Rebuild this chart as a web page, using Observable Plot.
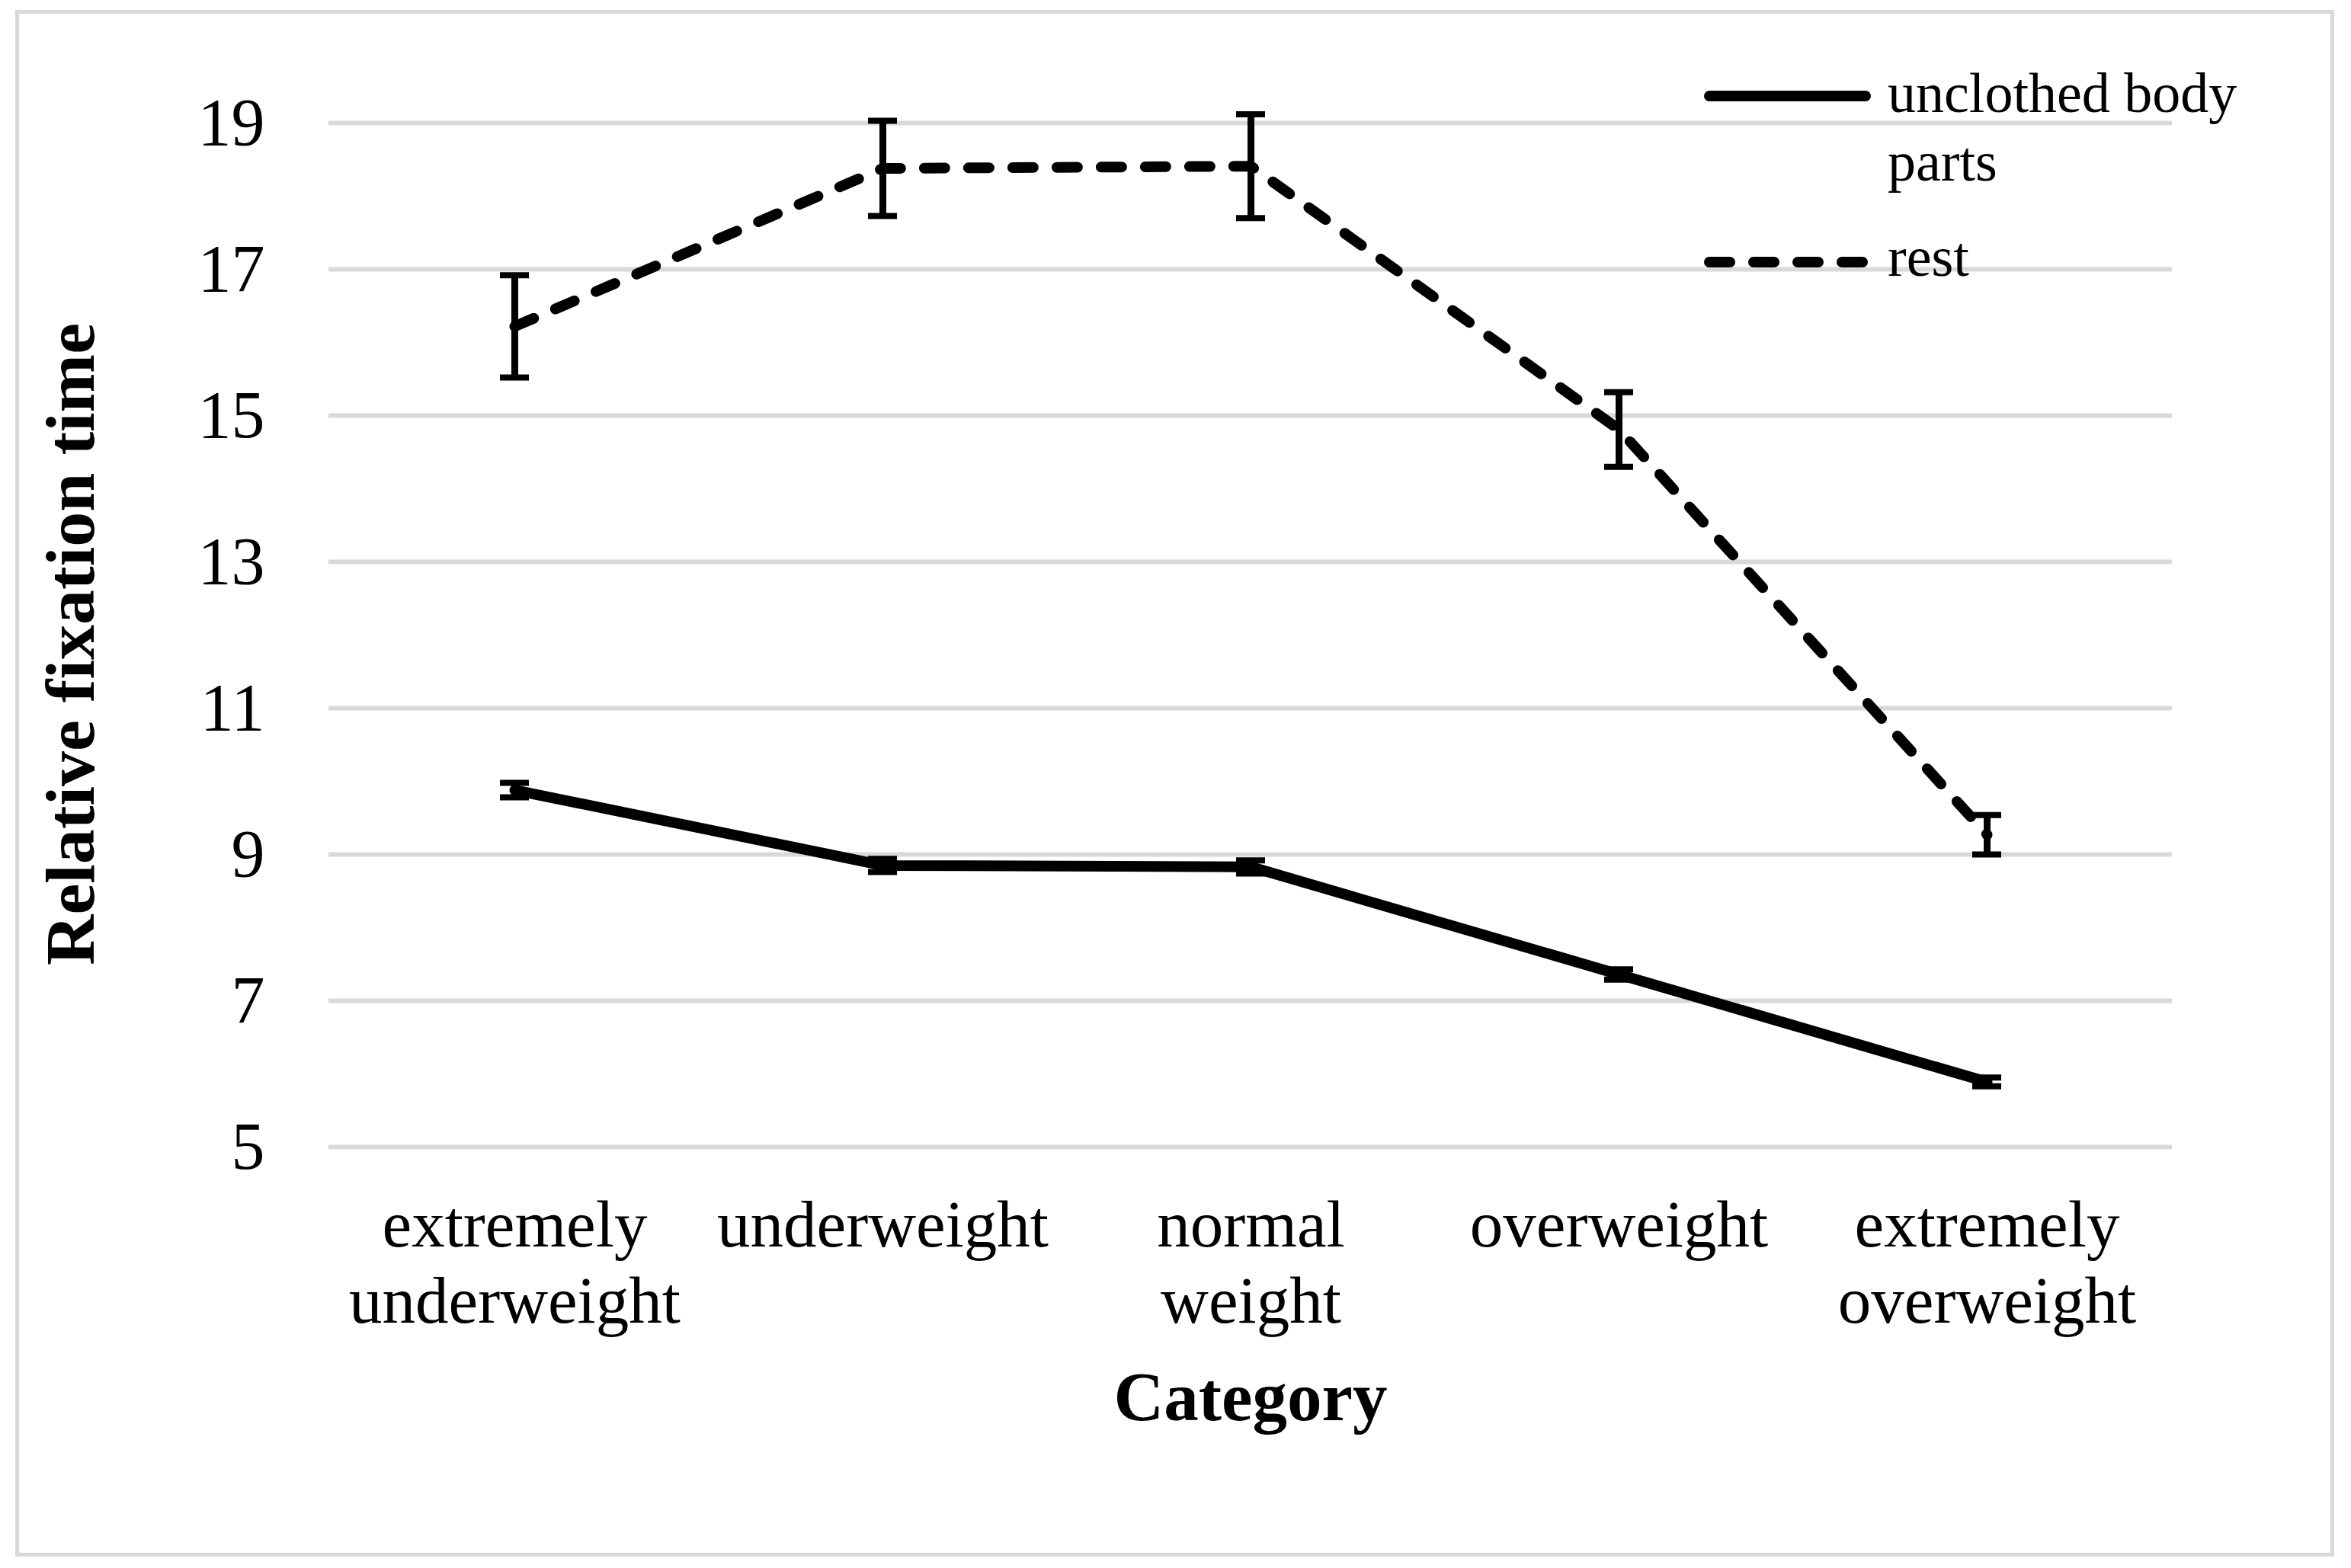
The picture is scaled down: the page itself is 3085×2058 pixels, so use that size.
<!DOCTYPE html>
<html>
<head>
<meta charset="utf-8">
<script src="https://cdn.jsdelivr.net/npm/d3@7"></script>
<script src="https://cdn.jsdelivr.net/npm/@observablehq/plot@0.6"></script>
<style>
  html, body { margin: 0; padding: 0; background: #fff; }
  #wrap { position: relative; width: 3085px; height: 2058px; overflow: hidden; }
  #wrap > svg { position: absolute; left: 0; top: 0; }
  #border { position: absolute; left: 20px; top: 13px; width: 3043px; height: 2030px;
            box-sizing: border-box; border: 5px solid #d9d9d9; pointer-events: none; }
  #legend { position: absolute; left: 0; top: 0; pointer-events: none; }
</style>
</head>
<body>
<div id="wrap"><div id="border"></div></div>
<script>
// ---- data ----
const categories = ["extremely underweight", "underweight", "normal weight", "overweight", "extremely overweight"];
const categoryLabels = ["extremely\nunderweight", "underweight", "normal\nweight", "overweight", "extremely\noverweight"];
const seriesNames = ["unclothed body parts", "rest"];
const unclothedMean = [9.88, 8.85, 8.83, 7.36, 5.89];
const unclothedErr  = [0.10, 0.09, 0.09, 0.07, 0.06];
const restMean = [16.22, 18.38, 18.41, 14.81, 9.27];
const restErr  = [0.70, 0.65, 0.71, 0.51, 0.27];
const yTicks = [5, 7, 9, 11, 13, 15, 17, 19];
const yTitle = "Relative fixation time";
const xTitle = "Category";

const toRows = (series, means, errs) => categories.map((c, i) => ({
  series, category: c, mean: means[i], lo: means[i] - errs[i], hi: means[i] + errs[i]
}));
const unclothedRows = toRows(seriesNames[0], unclothedMean, unclothedErr);
const restRows = toRows(seriesNames[1], restMean, restErr);
const allRows = [...unclothedRows, ...restRows];

const FONT = '"Liberation Serif", "Times New Roman", Times, serif';

const chart = Plot.plot({
  width: 3085,
  height: 2058,
  marginLeft: 431,
  marginRight: 235,
  marginTop: 161,
  marginBottom: 553,
  style: { fontFamily: FONT, color: "#000", background: "transparent", overflow: "visible" },
  x: { type: "point", domain: categories, padding: 0.5, axis: null },
  y: { domain: [5, 19], axis: null },
  marks: [
    Plot.ruleY(yTicks, { y: d => d, stroke: "#d9d9d9", strokeWidth: 6 }),
    Plot.axisY(yTicks, { tickSize: 0, tickPadding: 84, fontSize: 88, label: null, tickFormat: d => String(d) }),
    Plot.text(categories, {
      x: d => d, text: (d, i) => categoryLabels[i], frameAnchor: "bottom",
      lineAnchor: "top", dy: 59, fontSize: 87, lineHeight: 1.15, textAnchor: "middle"
    }),
    Plot.text([yTitle], {
      text: d => d, frameAnchor: "left", rotate: -90, dx: -309, dy: 12,
      fontSize: 92, fontWeight: "bold", lineAnchor: "bottom", textAnchor: "middle"
    }),
    Plot.text([xTitle], {
      text: d => d, frameAnchor: "bottom", dy: 358,
      fontSize: 91, fontWeight: "bold", lineAnchor: "bottom", textAnchor: "middle"
    }),
    Plot.line(restRows, {
      x: "category", y: "mean", stroke: "#000", strokeWidth: 14,
      strokeDasharray: "27,31", strokeLinecap: "round", strokeLinejoin: "round"
    }),
    Plot.line(unclothedRows, {
      x: "category", y: "mean", stroke: "#000", strokeWidth: 14, strokeLinejoin: "round"
    }),
    Plot.ruleX(allRows, { x: "category", y1: "lo", y2: "hi", stroke: "#000", strokeWidth: 9 }),
    Plot.ruleY(allRows, { x1: "category", x2: "category", y: "hi", stroke: "#000", strokeWidth: 8, insetLeft: -19, insetRight: -19 }),
    Plot.ruleY(allRows, { x1: "category", x2: "category", y: "lo", stroke: "#000", strokeWidth: 8, insetLeft: -19, insetRight: -19 })
  ]
});
document.getElementById("wrap").insertBefore(chart, document.getElementById("border"));

// ---- legend (overlay) ----
const legendItems = [
  { label: ["unclothed body", "parts"], dash: null, lineY: 126, textY: 147 },
  { label: ["rest"], dash: "27,31", lineY: 344, textY: 362 }
];
const lg = d3.select("#wrap").append("svg").attr("id", "legend").attr("width", 3085).attr("height", 2058);
legendItems.forEach(it => {
  lg.append("line").attr("x1", 2243).attr("x2", 2448).attr("y1", it.lineY).attr("y2", it.lineY)
    .attr("stroke", "#000").attr("stroke-width", 14).attr("stroke-linecap", "round")
    .attr("stroke-dasharray", it.dash);
  const t = lg.append("text").attr("x", 2477).attr("y", it.textY)
    .attr("font-family", FONT).attr("font-size", 74).attr("fill", "#000");
  it.label.forEach((s, i) => t.append("tspan").attr("x", 2477).attr("dy", i ? 90 : 0).text(s));
});
</script>
</body>
</html>
